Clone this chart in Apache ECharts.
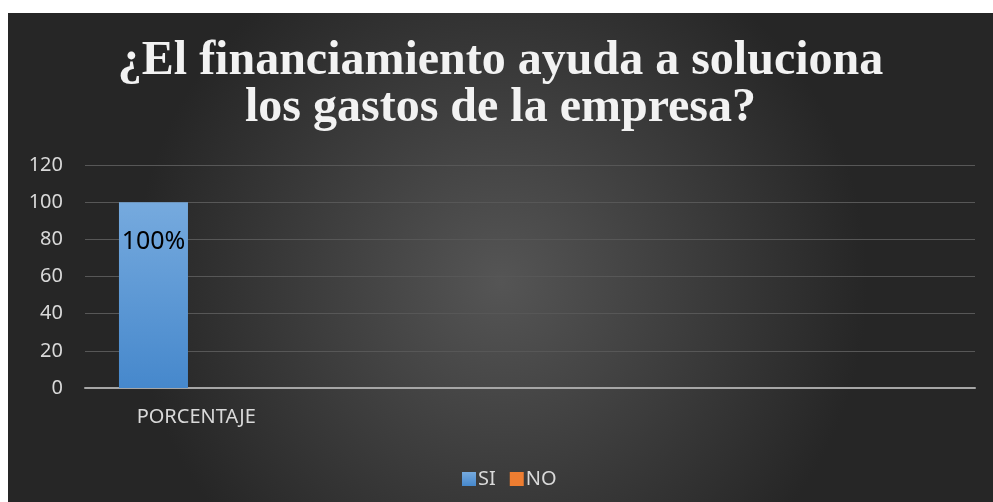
<!DOCTYPE html>
<html>
<head>
<meta charset="utf-8">
<script src="https://cdn.jsdelivr.net/npm/echarts@6/dist/echarts.min.js"></script>
<style>
  html, body { margin: 0; padding: 0; background: #fff; }
  #main { position: absolute; left: 8px; top: 13px; width: 985px; height: 489px; }
</style>
</head>
<body>
<div id="main"></div>
<script>
// datos del gráfico
var categorias = ['PORCENTAJE', '', '', ''];
var serieSI = [100, null, null, null];
var serieNO = [0, null, null, null];
var etiquetasSI = ['100%', '', '', ''];
var ejeY = { min: 0, max: 120, intervalo: 20 };

var myChart = echarts.init(document.getElementById('main'));

var option = {
  backgroundColor: {
    type: 'radial', x: 0.5, y: 0.55, r: 0.75,
    colorStops: [
      { offset: 0, color: '#555555' },
      { offset: 1, color: '#262626' }
    ]
  },
  title: {
    text: '¿El financiamiento ayuda a soluciona\nlos gastos de la empresa?',
    left: 'center',
    top: 20,
    textStyle: {
      fontFamily: 'Liberation Serif',
      fontWeight: 'bold',
      fontSize: 48,
      lineHeight: 47,
      color: '#f2f2f2'
    }
  },
  legend: {
    data: ['SI', 'NO'],
    left: 449,
    top: 451,
    itemWidth: 14,
    itemHeight: 14,
    itemGap: 14,
    icon: 'rect',
    textStyle: { color: '#d9d9d9', fontSize: 20, fontFamily: 'Noto Sans', padding: [0, 0, 0, -3] }
  },
  grid: { left: 77, right: 18, top: 152, bottom: 114 },
  xAxis: {
    type: 'category',
    data: categorias,
    axisTick: { show: false },
    axisLine: { lineStyle: { color: '#a6a6a6', width: 2 } },
    axisLabel: { color: '#d9d9d9', fontSize: 20, fontFamily: 'Noto Sans', margin: 19 }
  },
  yAxis: {
    type: 'value',
    min: ejeY.min,
    max: ejeY.max,
    interval: ejeY.intervalo,
    axisLine: { show: false },
    axisTick: { show: false },
    splitLine: { lineStyle: { color: '#575757', width: 1 } },
    axisLabel: { color: '#d9d9d9', fontSize: 20, fontFamily: 'Noto Sans', margin: 22 }
  },
  series: [
    {
      name: 'SI',
      type: 'bar',
      data: serieSI,
      barWidth: 69,
      barGap: '24%',
      itemStyle: {
        color: {
          type: 'linear', x: 0, y: 0, x2: 0, y2: 1,
          colorStops: [
            { offset: 0, color: '#76aade' },
            { offset: 1, color: '#4688cc' }
          ]
        }
      },
      label: {
        show: true,
        position: ['50%', 27],
        align: 'center',
        color: '#000',
        fontSize: 25,
        fontFamily: 'Noto Sans',
        formatter: function (p) { return etiquetasSI[p.dataIndex]; }
      }
    },
    {
      name: 'NO',
      type: 'bar',
      data: serieNO,
      barWidth: 69,
      itemStyle: { color: '#ed7d31' }
    }
  ]
};

myChart.setOption(option);
</script>
</body>
</html>
